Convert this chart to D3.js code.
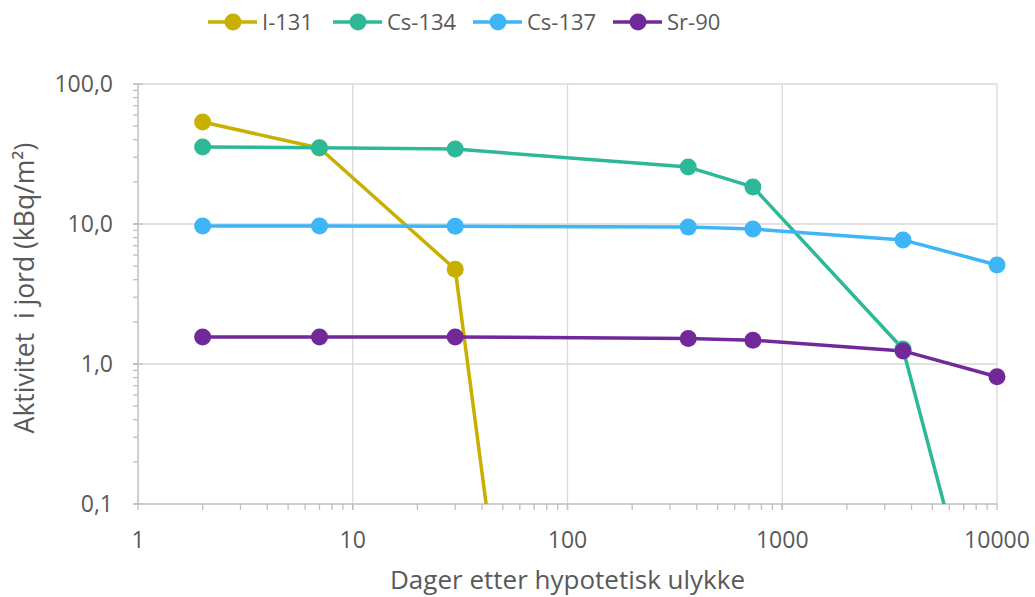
<!DOCTYPE html>
<html>
<head>
<meta charset="utf-8">
<script src="https://cdn.jsdelivr.net/npm/d3@7"></script>
<style>
html,body{margin:0;padding:0;background:#fff;}
svg{display:block;}
text{font-family:"Open Sans",sans-serif;fill:#595959;}
</style>
</head>
<body>
<svg id="chart" width="1035" height="597"></svg>
<script>
// ---- data ----
const days = [2, 7, 30, 365, 730, 3650, 10000];
const seriesNames = ["I-131", "Cs-134", "Cs-137", "Sr-90"];
const i131 = [53.5, 34.9, 4.75, 1.1e-12, null, null, null];
const cs134 = [35.5, 35.0, 34.3, 25.5, 18.4, 1.28, 0.0037];
const cs137 = [9.68, 9.68, 9.65, 9.5, 9.2, 7.7, 5.1];
const sr90 = [1.56, 1.56, 1.56, 1.52, 1.48, 1.24, 0.81];
const seriesColors = ["#C8AF00", "#2DB897", "#3DB5F6", "#71299A"];
const xTicks = [1, 10, 100, 1000, 10000];
const yTicks = [0.1, 1, 10, 100];
const yTickLabels = ["0,1", "1,0", "10,0", "100,0"];

const seriesValues = [i131, cs134, cs137, sr90];

(function () {
const svg = d3.select("#chart");
const pL = 138, pR = 997, pT = 84, pB = 504;
const x = d3.scaleLog().domain([1, 10000]).range([pL, pR]);
const y = d3.scaleLog().domain([0.1, 100]).range([pB, pT]);

// grid
const grid = svg.append("g");
xTicks.slice(1).forEach(t => {
  grid.append("line").attr("x1", x(t)).attr("x2", x(t)).attr("y1", pT).attr("y2", pB)
    .attr("stroke", "#d9d9d9").attr("stroke-width", 1.3);
});
yTicks.slice(1).forEach(t => {
  grid.append("line").attr("x1", pL).attr("x2", pR).attr("y1", y(t)).attr("y2", y(t))
    .attr("stroke", "#d9d9d9").attr("stroke-width", 1.3);
});

// x axis
const xMinor = [];
for (let d = 1; d < 10000; d *= 10) for (let k = 1; k <= 10; k++) xMinor.push(d * k);
const xAxis = svg.append("g");
xAxis.append("line").attr("x1", pL).attr("x2", pR).attr("y1", pB).attr("y2", pB)
  .attr("stroke", "#bfbfbf").attr("stroke-width", 1.5);
xAxis.selectAll("line.mt").data(xMinor).join("line").attr("class", "mt")
  .attr("x1", d => x(d)).attr("x2", d => x(d)).attr("y1", pB).attr("y2", pB + 6)
  .attr("stroke", "#bfbfbf").attr("stroke-width", 1.3);
xAxis.selectAll("text").data(xTicks).join("text")
  .attr("x", d => x(d)).attr("y", 548).attr("text-anchor", "middle")
  .attr("font-size", 23).text(d => String(d));

// y axis
const yMinor = [];
for (let d = 0.1; d < 100; d *= 10) for (let k = 1; k <= 10; k++) yMinor.push(d * k);
const yAxis = svg.append("g");
yAxis.append("line").attr("x1", pL).attr("x2", pL).attr("y1", pT).attr("y2", pB)
  .attr("stroke", "#bfbfbf").attr("stroke-width", 1.5);
yAxis.selectAll("line.mt").data(yMinor).join("line").attr("class", "mt")
  .attr("x1", pL - 5).attr("x2", pL).attr("y1", d => y(d)).attr("y2", d => y(d))
  .attr("stroke", "#bfbfbf").attr("stroke-width", 1.3);
yAxis.selectAll("line.MT").data(yTicks).join("line").attr("class", "MT")
  .attr("x1", pL - 5).attr("x2", pL + 5).attr("y1", d => y(d)).attr("y2", d => y(d))
  .attr("stroke", "#bfbfbf").attr("stroke-width", 1.3);
yAxis.selectAll("text").data(yTicks).join("text")
  .attr("x", 113).attr("y", d => y(d) + 8).attr("text-anchor", "end")
  .attr("font-size", 23).text((d, i) => yTickLabels[i]);

// axis titles
svg.append("text").attr("x", (pL + pR) / 2).attr("y", 589).attr("text-anchor", "middle")
  .attr("font-size", 26).text("Dager etter hypotetisk ulykke");
svg.append("text").attr("transform", "translate(34,288) rotate(-90)").attr("text-anchor", "middle")
  .attr("font-size", 26.5).attr("xml:space", "preserve").text("Aktivitet  i jord (kBq/m²)");

// clip
svg.append("clipPath").attr("id", "clip").append("rect")
  .attr("x", pL).attr("y", pT - 10).attr("width", pR - pL + 10).attr("height", pB - pT + 10);

const line = d3.line().defined(d => d.v != null).x(d => x(d.d)).y(d => y(d.v));
const plot = svg.append("g");
seriesValues.forEach((vals, si) => {
  const pts = days.map((d, i) => ({d: d, v: vals[i]}));
  plot.append("path").datum(pts).attr("d", line).attr("clip-path", "url(#clip)")
    .attr("fill", "none").attr("stroke", seriesColors[si]).attr("stroke-width", 3.5)
    .attr("stroke-linejoin", "round");
});
seriesValues.forEach((vals, si) => {
  const pts = days.map((d, i) => ({d: d, v: vals[i]})).filter(p => p.v != null && p.v >= 0.1);
  plot.selectAll(null).data(pts).join("circle")
    .attr("cx", p => x(p.d)).attr("cy", p => y(p.v)).attr("r", 8.5)
    .attr("fill", seriesColors[si]);
});

// legend
const legendX = [208, 333, 473, 613];
const lg = svg.append("g");
seriesNames.forEach((n, i) => {
  const g = lg.append("g").attr("transform", `translate(${legendX[i]},22)`);
  g.append("line").attr("x1", 0).attr("x2", 49).attr("y1", 0).attr("y2", 0)
    .attr("stroke", seriesColors[i]).attr("stroke-width", 3.5);
  g.append("circle").attr("cx", 25).attr("cy", 0).attr("r", 8.5).attr("fill", seriesColors[i]);
  g.append("text").attr("x", 54).attr("y", 8).attr("font-size", 22).text(n);
});
})();
</script>
</body>
</html>
